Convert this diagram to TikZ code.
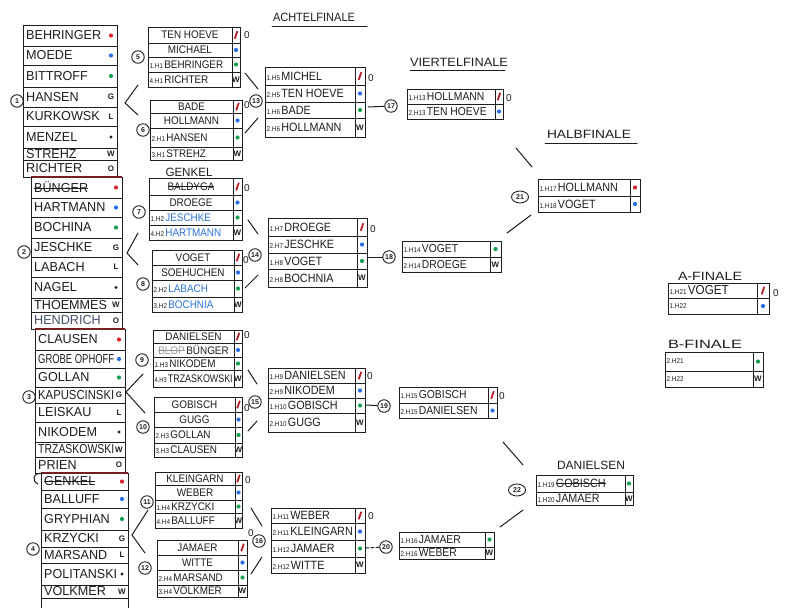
\documentclass[tikz,border=0pt]{standalone}
\usepackage{fontspec}
\setmainfont{Liberation Sans}
\usepackage{graphicx}
\usetikzlibrary{shapes.geometric}
\definecolor{rd}{RGB}{215,35,45}
\definecolor{bl}{RGB}{40,110,230}
\definecolor{gn}{RGB}{20,160,80}
\definecolor{mr}{RGB}{120,30,35}
\definecolor{ink}{RGB}{30,30,30}
\definecolor{nb}{RGB}{45,115,220}
\definecolor{hg}{RGB}{70,80,110}
\newlength\fw
\newcommand\fitx[3]{\setlength\fw{#1}\sbox0{\scalebox{#2}[1]{#3}}\ifdim\wd0>\fw\relax\resizebox{\fw}{\height}{\usebox0}\else\usebox0\fi}
\newcommand\fit[2]{\fitx{#1}{0.9}{#2}}
\newcommand\tw[2]{\resizebox{#1}{\height}{#2}}
\newcommand\strk[1]{\sbox2{#1}\rlap{\rule[0.3em]{\wd2}{0.8pt}}\usebox2}
\newcommand\pf[1]{{\fontsize{7}{7}\selectfont#1}\kern1.5pt}
\newcommand\rdot{\tikz\fill[rd] (0pt,0pt) circle[radius=2.1pt];}
\newcommand\bdot{\tikz\fill[bl] (0pt,0pt) circle[radius=2.1pt];}
\newcommand\gdot{\tikz\fill[gn] (0pt,0pt) circle[radius=2.1pt];}
\newcommand\kdot{\tikz\fill[ink] (0pt,0pt) circle[radius=1.6pt];}
\newcommand\rsl{\tikz\draw[rd!85!black, line width=1.8pt] (0pt,0pt) -- (2.6pt,7.5pt);}
\newcommand\gfont{\fontsize{13}{13}\selectfont}
\def\mfont{\fontsize{11}{11}\selectfont}
% group list row: name, x1, y1, x2, y2, text, marker
\newcommand\gr[7]{%
 \draw[bx] (#2,#3) rectangle (#4,#5);
 \node[tx, anchor=west, font=\gfont] (#1) at ({#2+3},{(#3+#5)/2}) {\fitx{\dimexpr#4pt-#2pt-14pt\relax}{0.97}{#6}};
 \node[mk] (#1m) at ({#4-6},{(#3+#5)/2}) {#7};}
% match row, left aligned: name, x1, y1, x2, y2, xd, text, marker
\newcommand\rw[8]{%
 \draw[bx] (#2,#3) rectangle (#4,#5) (#6,#3) -- (#6,#5);
 \node[tx, anchor=west] (#1) at ({#2+1.5},{(#3+#5)/2}) {\fit{\dimexpr#6pt-#2pt-3pt\relax}{#7}};
 \node[mk] (#1m) at ({(#6+#4)/2},{(#3+#5)/2}) {#8};}
% match row, centred
\newcommand\rc[8]{%
 \draw[bx] (#2,#3) rectangle (#4,#5) (#6,#3) -- (#6,#5);
 \node[tx] (#1) at ({(#2+#6)/2},{(#3+#5)/2}) {\fit{\dimexpr#6pt-#2pt-6pt\relax}{#7}};
 \node[mk] (#1m) at ({(#6+#4)/2},{(#3+#5)/2}) {#8};}
\begin{document}
\begin{tikzpicture}[x=1pt,y=-1pt,
  bx/.style={draw=ink, line width=0.9pt},
  ln/.style={draw=ink, line width=1pt, line cap=round},
  tx/.style={inner sep=0pt, text=ink, font=\mfont},
  mk/.style={inner sep=0pt, text=ink, font=\fontsize{8}{8}\selectfont\bfseries},
  cn/.style={draw=ink, circle, line width=0.9pt, inner sep=0pt, minimum size=12.5pt, text=ink, font=\fontsize{7}{7}\selectfont\bfseries},
  ce/.style={draw=ink, ellipse, line width=0.9pt, inner sep=0pt, minimum width=17pt, minimum height=12pt, text=ink, font=\fontsize{7}{7}\selectfont\bfseries},
  zr/.style={inner sep=0pt, text=ink, font=\fontsize{10}{10}\selectfont},
  ttl/.style={inner sep=0pt, text=ink, font=\fontsize{12}{12}\selectfont},
  mrl/.style={draw=mr, line width=1.4pt}]
\useasboundingbox (0,0) rectangle (800,608);
\fill[white] (0,0) rectangle (800,608);

% ---------------- groups ----------------
\gr{g1a}{23}{25}{117}{46}{BEHRINGER}{\rdot}
\gr{g1b}{23}{46}{117}{65}{MOEDE}{\bdot}
\gr{g1c}{23}{65}{117}{87}{BITTROFF}{\gdot}
\gr{g1d}{23}{87}{117}{107}{HANSEN}{G}
\gr{g1e}{23}{107}{117}{126}{KURKOWSK}{L}
\gr{g1f}{23}{126}{117}{148}{MENZEL}{\kdot}
\gr{g1g}{23}{148}{117}{160}{STREHZ}{W}
\gr{g1h}{23}{160}{117}{177}{RICHTER}{O}

\gr{g2a}{31}{177}{122}{198}{\strk{BÜNGER}}{\rdot}
\gr{g2b}{31}{198}{122}{217}{HARTMANN}{\bdot}
\gr{g2c}{31}{217}{122}{238}{BOCHINA}{\gdot}
\gr{g2d}{31}{238}{122}{257}{JESCHKE}{G}
\gr{g2e}{31}{257}{122}{277}{LABACH}{L}
\gr{g2f}{31}{277}{122}{298}{NAGEL}{\kdot}
\gr{g2g}{31}{298}{122}{312}{THOEMMES}{W}
\gr{g2h}{31}{312}{122}{329}{\textcolor{hg}{HENDRICH}}{O}

\gr{g3a}{35}{329}{125}{350}{CLAUSEN}{\rdot}
\gr{g3b}{35}{350}{125}{368}{GROBE OPHOFF}{\bdot}
\gr{g3c}{35}{368}{125}{387}{GOLLAN}{\gdot}
\gr{g3d}{35}{387}{125}{403}{KAPUSCINSKI}{G}
\gr{g3e}{35}{403}{125}{422}{LEISKAU}{L}
\gr{g3f}{35}{422}{125}{442}{NIKODEM}{\kdot}
\gr{g3g}{35}{442}{125}{457}{TRZASKOWSKI}{W}
\gr{g3h}{35}{457}{125}{473}{PRIEN}{O}

\gr{g4a}{41}{473}{128}{490}{\strk{GENKEL}}{\rdot}
\gr{g4b}{41}{490}{128}{508}{BALLUFF}{\bdot}
\gr{g4c}{41}{508}{128}{530}{GRYPHIAN}{\gdot}
\gr{g4d}{41}{530}{128}{547}{KRZYCKI}{G}
\gr{g4e}{41}{547}{128}{563}{MARSAND}{L}
\gr{g4f}{41}{563}{128}{585}{POLITANSKI}{\kdot}
\gr{g4g}{41}{585}{128}{598}{VOLKMER}{W}
\draw[bx] (41,598) -- (41,608) (128,598) -- (128,608);

\draw[mrl] (31,177) -- (122,177);
\draw[mrl] (35,329) -- (125,329);
\draw[mrl] (41,473) -- (128,473);
\draw[ln] (43,473.5) .. controls (33,472) and (31,481) .. (38,484);

\node[cn] (c1) at (17,101) {1};
\node[cn] (c2) at (24,252) {2};
\node[cn] (c3) at (29,397) {3};
\node[cn] (c4) at (33,549) {4};

% ---------------- group matches ----------------
\rc{m5a}{148}{27}{240}{43}{232}{TEN HOEVE}{\rsl}
\rc{m5b}{148}{43}{240}{57}{232}{MICHAEL}{\bdot}
\rw{m5c}{148}{57}{240}{72}{232}{\pf{1.H1}BEHRINGER}{\gdot}
\rw{m5d}{148}{72}{240}{87}{232}{\pf{4.H1}RICHTER}{W}

\rc{m6a}{150}{100}{242}{113}{233}{BADE}{\rsl}
\rc{m6b}{150}{113}{242}{128}{233}{HOLLMANN}{\bdot}
\rw{m6c}{150}{128}{242}{147}{233}{\pf{2.H1}HANSEN}{\gdot}
\rw{m6d}{150}{147}{242}{160}{233}{\pf{3.H1}STREHZ}{W}

\node[ttl] (t7) at (189,172) {\tw{47pt}{GENKEL}};
\rc{m7a}{149}{178}{242}{195}{233}{\strk{BALDYGA}}{\rsl}
\rc{m7b}{149}{195}{242}{210}{233}{DROEGE}{\bdot}
\rw{m7c}{149}{210}{242}{225}{233}{\pf{1.H2}\textcolor{nb}{JESCHKE}}{\gdot}
\rw{m7d}{149}{225}{242}{240}{233}{\pf{4.H2}\textcolor{nb}{HARTMANN}}{W}

\rc{m8a}{152}{250}{242}{265}{234}{VOGET}{\rsl}
\rc{m8b}{152}{265}{242}{280}{234}{SOEHUCHEN}{\bdot}
\rw{m8c}{152}{280}{242}{297}{234}{\pf{2.H2}\textcolor{nb}{LABACH}}{\gdot}
\rw{m8d}{152}{297}{242}{312}{234}{\pf{3.H2}\textcolor{nb}{BOCHNIA}}{W}

\rc{m9a}{153}{330}{242}{343}{234}{DANIELSEN}{\rsl}
\rc{m9b}{153}{343}{242}{357}{234}{\textcolor{black!40}{\strk{BLOP}}\,BÜNGER}{\bdot}
\rw{m9c}{153}{357}{242}{370}{234}{\pf{1.H3}NIKODEM}{\gdot}
\rw{m9d}{153}{370}{242}{387}{234}{\pf{4.H3}TRZASKOWSKI}{W}

\rc{m10a}{154}{397}{242}{412}{235}{GOBISCH}{\rsl}
\rc{m10b}{154}{412}{242}{427}{235}{GUGG}{\bdot}
\rw{m10c}{154}{427}{242}{443}{235}{\pf{2.H3}GOLLAN}{\gdot}
\rw{m10d}{154}{443}{242}{457}{235}{\pf{3.H3}CLAUSEN}{W}

\rc{m11a}{155}{472}{242}{485}{235}{KLEINGARN}{\rsl}
\rc{m11b}{155}{485}{242}{500}{235}{WEBER}{\bdot}
\rw{m11c}{155}{500}{242}{513}{235}{\pf{1.H4}KRZYCKI}{\gdot}
\rw{m11d}{155}{513}{242}{528}{235}{\pf{4.H4}BALLUFF}{W}

\rc{m12a}{157}{540}{247}{555}{238}{JAMAER}{\rsl}
\rc{m12b}{157}{555}{247}{570}{238}{WITTE}{\bdot}
\rw{m12c}{157}{570}{247}{585}{238}{\pf{2.H4}MARSAND}{\gdot}
\rw{m12d}{157}{585}{247}{597}{238}{\pf{3.H4}VOLKMER}{W}

\node[zr] (z5) at (247,35) {0};
\node[zr] (z6) at (247,105) {0};
\node[zr] (z7) at (247,188) {0};
\node[zr] (z8) at (246,260) {0};
\node[zr] (z9) at (247,335) {0};
\node[zr] (z10) at (247,408) {0};
\node[zr] (z11) at (248,480) {0};
\node[zr] (z12) at (251,533) {0};

\node[cn] (c5) at (138,57) {5};
\node[cn] (c6) at (143,130) {6};
\node[cn] (c7) at (139,212) {7};
\node[cn] (c8) at (143,284) {8};
\node[cn] (c9) at (142,360) {9};
\node[cn] (c10) at (143,427) {10};
\node[cn] (c11) at (147,502) {11};
\node[cn] (c12) at (145,568) {12};

% left brackets
\coordinate (b1u) at (138,85); \coordinate (b1o) at (125,103); \coordinate (b1d) at (138,115);
\coordinate (b2u) at (138,233); \coordinate (b2o) at (127,253); \coordinate (b2d) at (138,265);
\coordinate (b3u) at (143,374); \coordinate (b3o) at (126,392); \coordinate (b3d) at (145,413);
\coordinate (b4u) at (148,510); \coordinate (b4o) at (132,535); \coordinate (b4d) at (145,553);
\draw[ln] (b1u) -- (b1o) -- (b1d);
\draw[ln] (b2u) -- (b2o) -- (b2d);
\draw[ln] (b3u) -- (b3o) -- (b3d);
\draw[ln] (b4u) -- (b4o) -- (b4d);

% ---------------- Achtelfinale ----------------
\node[ttl] (t8) at (314,17) {\tw{82pt}{ACHTELFINALE}};
\draw[ln] (272,26) -- (367,26);
\def\mfont{\fontsize{12}{12}\selectfont}
\rw{a13a}{265}{67}{365}{85}{355}{\pf{1.H5}MICHEL}{\rsl}
\rw{a13b}{265}{85}{365}{102}{355}{\pf{2.H5}TEN HOEVE}{\bdot}
\rw{a13c}{265}{102}{365}{118}{355}{\pf{1.H6}BADE}{\gdot}
\rw{a13d}{265}{118}{365}{137}{355}{\pf{2.H6}HOLLMANN}{W}

\rw{a14a}{268}{218}{367}{236}{357}{\pf{1.H7}DROEGE}{\rsl}
\rw{a14b}{268}{236}{367}{253}{357}{\pf{2.H7}JESCHKE}{\bdot}
\rw{a14c}{268}{253}{367}{269}{357}{\pf{1.H8}VOGET}{\gdot}
\rw{a14d}{268}{269}{367}{287}{357}{\pf{2.H8}BOCHNIA}{W}

\rw{a15a}{268}{368}{365}{383}{355}{\pf{1.H9}DANIELSEN}{\rsl}
\rw{a15b}{268}{383}{365}{398}{355}{\pf{2.H9}NIKODEM}{\bdot}
\rw{a15c}{268}{398}{365}{413}{355}{\pf{1.H10}GOBISCH}{\gdot}
\rw{a15d}{268}{413}{365}{432}{355}{\pf{2.H10}GUGG}{W}

\rw{a16a}{271}{508}{365}{523}{355}{\pf{1.H11}WEBER}{\rsl}
\rw{a16b}{271}{523}{365}{540}{355}{\pf{2.H11}KLEINGARN}{\bdot}
\rw{a16c}{271}{540}{365}{557}{355}{\pf{1.H12}JAMAER}{\gdot}
\rw{a16d}{271}{557}{365}{573}{355}{\pf{2.H12}WITTE}{W}

\node[zr] (z13) at (371,78) {0};
\node[zr] (z14) at (373,229) {0};
\node[zr] (z15) at (370,376) {0};
\node[zr] (z16) at (371,516) {0};

\node[cn] (c13) at (256,101) {13};
\node[cn] (c14) at (255,255) {14};
\node[cn] (c15) at (255,402) {15};
\node[cn] (c16) at (259,541) {16};

\coordinate (r5) at (245,73); \coordinate (r13u) at (258,89);
\coordinate (r6) at (245,133); \coordinate (r13d) at (258,118);
\coordinate (r7) at (248,220); \coordinate (r14u) at (258,234);
\coordinate (r8) at (245,288); \coordinate (r14d) at (258,275);
\coordinate (r9) at (248,370); \coordinate (r15u) at (257,384);
\coordinate (r10) at (248,431); \coordinate (r15d) at (257,421);
\coordinate (r11) at (251,508); \coordinate (r16u) at (262,526);
\coordinate (r12) at (251,574); \coordinate (r16d) at (262,557);
\draw[ln] (r5) -- (r13u); \draw[ln] (r6) -- (r13d);
\draw[ln] (r7) -- (r14u); \draw[ln] (r8) -- (r14d);
\draw[ln] (r9) -- (r15u); \draw[ln] (r10) -- (r15d);
\draw[ln] (r11) -- (r16u); \draw[ln] (r12) -- (r16d);

% ---------------- Viertelfinale ----------------
\node[ttl] (t4) at (459,62) {\tw{98pt}{VIERTELFINALE}};
\draw[ln] (410,70) -- (505,70);
\def\mfont{\fontsize{11.5}{11.5}\selectfont}
\rw{v17a}{407}{89}{503}{104}{495}{\pf{1.H13}HOLLMANN}{\rsl}
\rw{v17b}{407}{104}{503}{119}{495}{\pf{2.H13}TEN HOEVE}{\bdot}
\rw{v18a}{402}{241}{501}{257}{490}{\pf{1.H14}VOGET}{\gdot}
\rw{v18b}{402}{257}{501}{272}{490}{\pf{2.H14}DROEGE}{W}
\rw{v19a}{399}{387}{497}{403}{488}{\pf{1.H15}GOBISCH}{\rsl}
\rw{v19b}{399}{403}{497}{418}{488}{\pf{2.H15}DANIELSEN}{\bdot}
\rw{v20a}{399}{532}{494}{547}{485}{\pf{1.H16}JAMAER}{\gdot}
\rw{v20b}{399}{547}{494}{559}{485}{\pf{2.H16}WEBER}{W}
\node[zr] (z17) at (509,98) {0};
\node[zr] (z19) at (502,396) {0};

\node[cn] (c17) at (391,106) {17};
\node[cn] (c18) at (389,257) {18};
\node[cn] (c19) at (384,406) {19};
\node[cn] (c20) at (386,547) {20};
\coordinate (e13) at (368,107); \coordinate (e14) at (368,257);
\coordinate (e15) at (366,405); \coordinate (e16) at (366,548);
\draw[ln] (e13) -- (c17); \draw[ln] (e14) -- (c18);
\draw[ln] (e15) -- (c19); \draw[ln, dashed, dash pattern=on 3pt off 2pt] (e16) -- (c20);

% ---------------- Halbfinale ----------------
\node[ttl] (t2) at (589,134) {\tw{84pt}{HALBFINALE}};
\draw[ln] (545,143) -- (637,143);
\def\mfont{\fontsize{12}{12}\selectfont}
\rw{h21a}{538}{179}{640}{196}{630}{\pf{1.H17}HOLLMANN}{\rdot}
\rw{h21b}{538}{196}{640}{212}{630}{\pf{1.H18}VOGET}{\bdot}
\node[ttl] (tD) at (591,465) {\tw{68pt}{DANIELSEN}};
\rw{h22a}{536}{475}{633}{492}{625}{\pf{1.H19}\strk{GOBISCH}}{\gdot}
\rw{h22b}{536}{492}{633}{505}{625}{\pf{1.H20}JAMAER}{W}
\node[ce] (c21) at (520,197) {21};
\node[ce] (c22) at (517,490) {22};
\coordinate (f17) at (516,148); \coordinate (f21u) at (532,167);
\coordinate (f18) at (507,233); \coordinate (f21d) at (531,215);
\coordinate (f19) at (503,442); \coordinate (f22u) at (523,465);
\coordinate (f20) at (500,527); \coordinate (f22d) at (523,510);
\draw[ln] (f17) -- (f21u); \draw[ln] (f18) -- (f21d);
\draw[ln] (f19) -- (f22u); \draw[ln] (f20) -- (f22d);

% ---------------- Finals ----------------
\node[ttl] (tA) at (710,276) {\tw{64pt}{A-FINALE}};
\def\mfont{\fontsize{13}{13}\selectfont}
\rw{fa}{668}{283}{769}{298}{757}{\pf{1.H21}VOGET}{\rsl}
\rw{fb}{668}{298}{769}{314}{757}{\pf{1.H22}}{\bdot}
\node[zr] (zA) at (776,293) {0};
\node[ttl] (tB) at (705,344) {\tw{74pt}{B-FINALE}};
\rw{fc}{665}{352}{763}{371}{753}{\pf{2.H21}}{\gdot}
\rw{fd}{665}{371}{763}{387}{753}{\pf{2.H22}}{W}
\end{tikzpicture}
\end{document}
